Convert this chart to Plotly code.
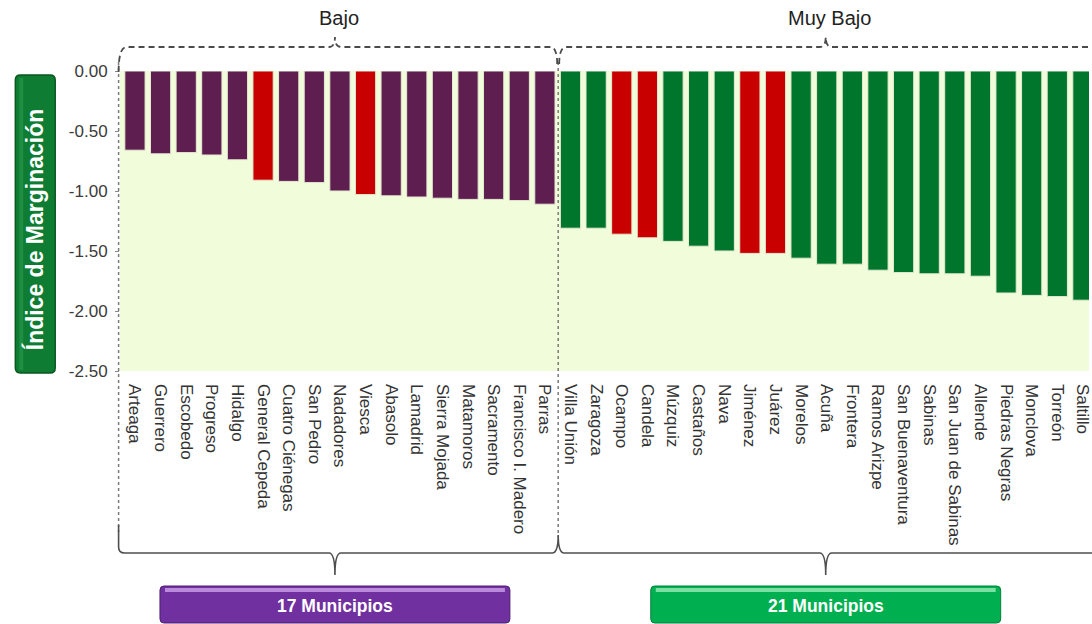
import plotly.graph_objects as go

# ---------------- data ----------------
bajo_names = ["Arteaga", "Guerrero", "Escobedo", "Progreso", "Hidalgo", "General Cepeda",
              "Cuatro Ciénegas", "San Pedro", "Nadadores", "Viesca", "Abasolo", "Lamadrid",
              "Sierra Mojada", "Matamoros", "Sacramento", "Francisco I. Madero", "Parras"]
bajo_values = [-0.66, -0.69, -0.68, -0.70, -0.74, -0.91, -0.92, -0.93, -1.00, -1.03,
               -1.04, -1.05, -1.06, -1.07, -1.07, -1.08, -1.11]

muy_bajo_names = ["Villa Unión", "Zaragoza", "Ocampo", "Candela", "Múzquiz", "Castaños",
                  "Nava", "Jiménez", "Juárez", "Morelos", "Acuña", "Frontera", "Ramos Arizpe",
                  "San Buenaventura", "Sabinas", "San Juan de Sabinas", "Allende",
                  "Piedras Negras", "Monclova", "Torreón", "Saltillo"]
muy_bajo_values = [-1.31, -1.31, -1.36, -1.39, -1.42, -1.46, -1.50, -1.52, -1.52, -1.56,
                   -1.61, -1.61, -1.66, -1.68, -1.69, -1.69, -1.71, -1.85, -1.87, -1.88, -1.91]

highlighted = ["General Cepeda", "Viesca", "Ocampo", "Candela", "Jiménez", "Juárez"]

y_ticks = [0.0, -0.5, -1.0, -1.5, -2.0, -2.5]
y_tick_text = ["0.00", "-0.50", "-1.00", "-1.50", "-2.00", "-2.50"]

group_labels = ["Bajo", "Muy Bajo"]
group_counts = ["17 Municipios", "21 Municipios"]

# ---------------- style ----------------
PURPLE = "#5E1F50"
GREEN = "#00762C"
RED = "#C80000"
BG = "#F1FCDA"
FONT = "Liberation Sans, Arial, sans-serif"

W_FIG, H_FIG = 1092, 624
L, T = 120, 71
PLOT_H = 300
B_PX = T + PLOT_H
PLOT_W = W_FIG - L
X_MIN, X_MAX = -0.584, 37.237

names = bajo_names + muy_bajo_names
values = bajo_values + muy_bajo_values
base_colors = [PURPLE] * len(bajo_names) + [GREEN] * len(muy_bajo_names)
colors = [RED if n in highlighted else c for n, c in zip(names, base_colors)]


def xpx(i):
    return L + (i - X_MIN) / (X_MAX - X_MIN) * PLOT_W


def px2paper(x, y):
    return (x - L) / PLOT_W, (B_PX - y) / PLOT_H


def path(cmds):
    out = []
    for c in cmds:
        if isinstance(c, str):
            out.append(c)
        else:
            px, py = px2paper(*c)
            out.append(f"{px:.5f},{py:.5f}")
    return " ".join(out)


fig = go.Figure()
fig.add_trace(go.Bar(
    x=list(range(len(names))), y=values,
    marker=dict(color=colors, line=dict(color="#E6EAD2", width=1)),
    width=0.79, hoverinfo="x+y",
))

n1 = len(bajo_names)
n2 = len(muy_bajo_names)
x_left = xpx(-0.6) - 1
x_mid = xpx(n1 - 0.5) + 0.5
c1 = xpx((n1 - 1) / 2) - 5
c2 = xpx(n1 + (n2 - 1) / 2) - 1
x_right = W_FIG + 5

shapes = []
# y-axis title box
shapes.append(dict(type="path", xref="paper", yref="paper",
                   path=path(["M", (20, 75), "L", (50, 75), "Q", (55, 75), (55, 80), "L", (55, 368),
                              "Q", (55, 373), (50, 373), "L", (20, 373), "Q", (15, 373), (15, 368),
                              "L", (15, 80), "Q", (15, 75), (20, 75), "Z"]),
                   fillcolor="#0E7C33", line=dict(color="#09571F", width=1.5), layer="above"))
shapes.append(dict(type="path", xref="paper", yref="paper",
                   path=path(["M", (19, 78), "L", (23, 78), "L", (23, 370), "L", (19, 370), "Z"]),
                   fillcolor="#2A9C4C", line=dict(width=0), opacity=0.6, layer="above"))
# dotted vertical separators
for xv, y0, y1 in [(x_left, 62, 532), (x_mid, 62, 537)]:
    shapes.append(dict(type="path", xref="paper", yref="paper",
                       path=path(["M", (xv, y0), "L", (xv, y1)]),
                       line=dict(color="#7A7A7A", width=1.5, dash="dot"), layer="above"))
# top dashed braces
top_y, peak_y = 47, 37
shapes.append(dict(type="path", xref="paper", yref="paper",
                   path=path(["M", (x_left, 72), "Q", (x_left, top_y), (x_left + 8, top_y),
                              "L", (c1 - 6, top_y), "Q", (c1, top_y), (c1, peak_y),
                              "Q", (c1, top_y), (c1 + 6, top_y),
                              "L", (x_mid - 8, top_y), "Q", (x_mid - 1, top_y), (x_mid - 1, 64)]),
                   line=dict(color="#4A4A4A", width=1.8, dash="6px,4px")))
shapes.append(dict(type="path", xref="paper", yref="paper",
                   path=path(["M", (x_mid + 1, 64), "Q", (x_mid + 1, top_y), (x_mid + 8, top_y),
                              "L", (c2 - 6, top_y), "Q", (c2, top_y), (c2, peak_y),
                              "Q", (c2, top_y), (c2 + 6, top_y),
                              "L", (x_right, top_y)]),
                   line=dict(color="#4A4A4A", width=1.8, dash="6px,4px")))
# bottom solid braces
bot_y, tick_y = 553, 575
shapes.append(dict(type="path", xref="paper", yref="paper",
                   path=path(["M", (x_left, 525), "L", (x_left, bot_y - 6), "Q", (x_left, bot_y), (x_left + 6, bot_y),
                              "L", (c1 - 6, bot_y), "Q", (c1, bot_y), (c1, tick_y),
                              "Q", (c1, bot_y), (c1 + 6, bot_y),
                              "L", (x_mid - 6, bot_y), "Q", (x_mid, bot_y), (x_mid, 535),
                              "Q", (x_mid, bot_y), (x_mid + 6, bot_y),
                              "L", (c2 - 6, bot_y), "Q", (c2, bot_y), (c2, tick_y),
                              "Q", (c2, bot_y), (c2 + 6, bot_y),
                              "L", (x_right, bot_y)]),
                   line=dict(color="#4F4F4F", width=1.6)))


def button(x0, x1, y0, y1, fill, hi, dark):
    r = 4
    shapes.append(dict(type="path", xref="paper", yref="paper",
                       path=path(["M", (x0 + r, y0), "L", (x1 - r, y0), "Q", (x1, y0), (x1, y0 + r),
                                  "L", (x1, y1 - r), "Q", (x1, y1), (x1 - r, y1),
                                  "L", (x0 + r, y1), "Q", (x0, y1), (x0, y1 - r),
                                  "L", (x0, y0 + r), "Q", (x0, y0), (x0 + r, y0), "Z"]),
                       fillcolor=fill, line=dict(color=dark, width=1)))
    shapes.append(dict(type="path", xref="paper", yref="paper",
                       path=path(["M", (x0 + 5, y0 + 2), "L", (x1 - 5, y0 + 2), "L", (x1 - 5, y0 + 6),
                                  "L", (x0 + 5, y0 + 6), "Z"]),
                       fillcolor=hi, line=dict(width=0), opacity=0.85))


bw = 351
button(c1 - bw / 2, c1 + bw / 2, 586, 623, "#7030A0", "#C99AE6", "#4E1E72")
button(c2 - bw / 2, c2 + bw / 2, 586, 623, "#00B050", "#8FEAB0", "#00803A")

annotations = []


def ann(text, x, y, size, color, bold=False, angle=0):
    px, py = px2paper(x, y)
    annotations.append(dict(text=f"<b>{text}</b>" if bold else text, x=px, y=py,
                            xref="paper", yref="paper", showarrow=False,
                            xanchor="center", yanchor="middle", textangle=angle,
                            font=dict(family=FONT, size=size, color=color)))


ann(group_labels[0], c1 + 4, 18, 20, "#222222")
ann(group_labels[1], c2 + 4, 18, 20, "#222222")
ann(group_counts[0], c1, 606, 17.5, "#FFFFFF", bold=True)
ann(group_counts[1], c2, 606, 17.5, "#FFFFFF", bold=True)
ann("Índice de Marginación", 35, 229, 23, "#FFFFFF", bold=True, angle=-90)

fig.update_layout(
    width=W_FIG, height=H_FIG,
    margin=dict(l=L, r=0, t=T, b=H_FIG - B_PX, pad=0),
    paper_bgcolor="white", plot_bgcolor=BG,
    showlegend=False, bargap=0.2,
    shapes=shapes, annotations=annotations,
    font=dict(family=FONT),
    xaxis=dict(range=[X_MIN, X_MAX], tickmode="array", tickvals=list(range(len(names))),
               ticktext=names, tickangle=90, showgrid=False, zeroline=False, showline=False,
               ticks="", ticklabelstandoff=12, ticklabeloverflow="allow",
               tickfont=dict(family=FONT, size=17, color="#333333")),
    yaxis=dict(range=[-2.5, 0], tickmode="array", tickvals=y_ticks, ticktext=y_tick_text,
               showgrid=False, zeroline=False, showline=False,
               ticks="outside", ticklen=4, tickcolor="#888888", ticklabelstandoff=4,
               tickfont=dict(family=FONT, size=17, color="#3A3A3A")),
)

fig.write_html("out.html", config={"displayModeBar": False},
               post_script="document.body.style.margin='0px';document.body.style.overflow='hidden';")
